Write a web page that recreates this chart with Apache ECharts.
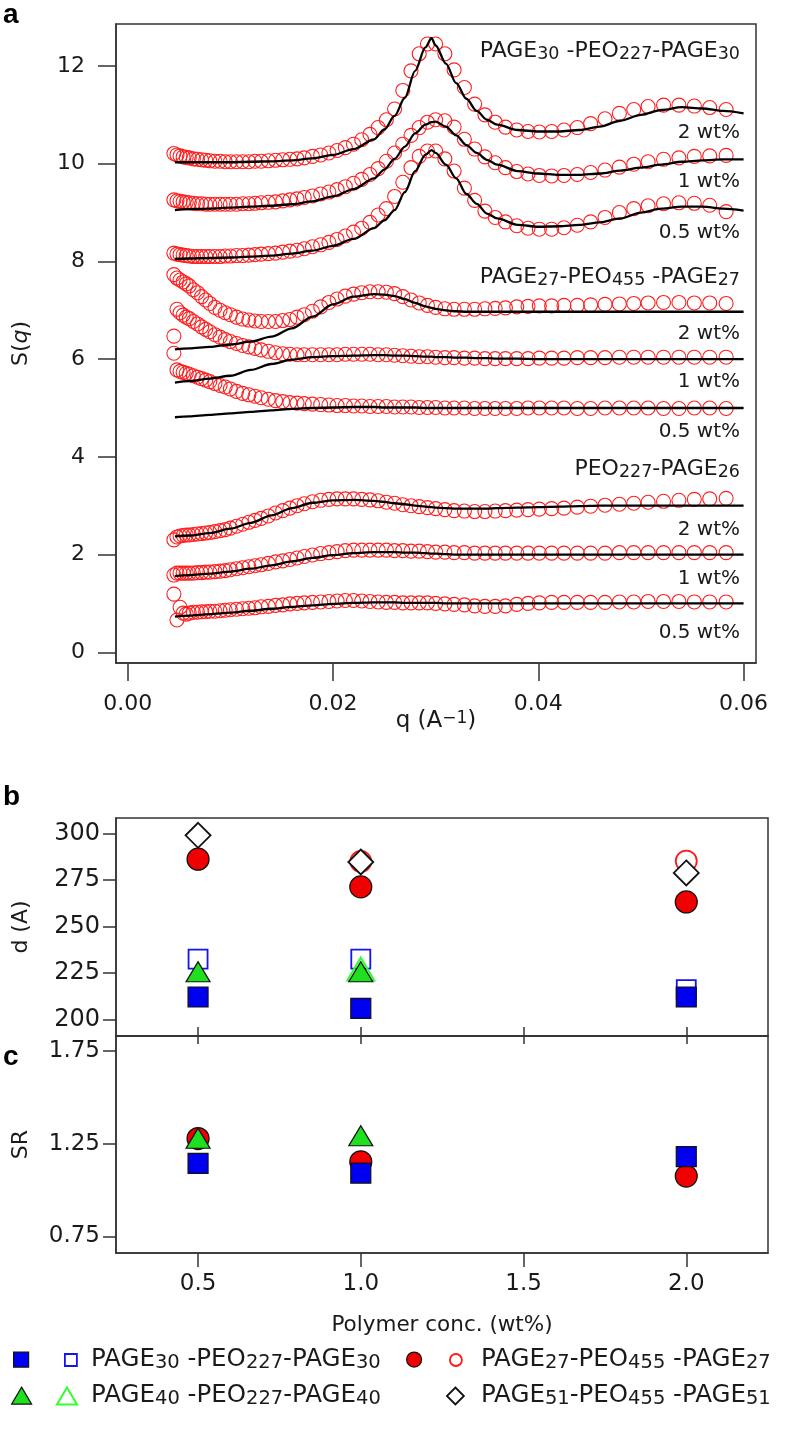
<!DOCTYPE html>
<html><head><meta charset="utf-8">
<script src="https://cdn.jsdelivr.net/npm/echarts@6/dist/echarts.min.js"></script>
<style>html,body{margin:0;padding:0;background:#fff}#c{width:788px;height:1433px}</style>
</head><body><div id="c"></div>
<script>
// ---------- Panel a: S(q) data ----------
const qData = [0.0045,0.0048,0.0051,0.0054,0.0057,0.0060,0.0064,0.0068,0.0072,0.0076,
 0.0080,0.0085,0.0090,0.0095,0.0100,0.0106,0.0112,0.0118,0.0124,0.0130,
 0.0137,0.0144,0.0151,0.0158,0.0165,0.0172,0.0180,0.0188,0.0196,0.0204,
 0.0212,0.0220,0.0228,0.0236,0.0244,0.0252,0.0260,0.0268,0.0276,0.0284,
 0.0292,0.0300,0.0309,0.0318,0.0328,0.0338,0.0348,0.0358,0.0368,0.0379,
 0.0390,0.0401,0.0413,0.0425,0.0438,0.0451,0.0465,0.0479,0.0493,0.0507,
 0.0522,0.0537,0.0552,0.0567,0.0583];
const a2wt = [10.21,10.18,10.16,10.14,10.13,10.12,10.10,10.09,10.08,10.07,
 10.06,10.05,10.05,10.04,10.04,10.04,10.04,10.04,10.05,10.05,
 10.06,10.07,10.08,10.09,10.10,10.12,10.15,10.18,10.22,10.27,
 10.33,10.40,10.49,10.60,10.74,10.90,11.12,11.50,11.90,12.25,
 12.45,12.45,12.25,11.92,11.56,11.22,11.00,10.85,10.75,10.69,
 10.66,10.65,10.66,10.69,10.74,10.82,10.92,11.03,11.11,11.17,
 11.20,11.20,11.18,11.15,11.11];
const a1wt = [9.26,9.24,9.23,9.22,9.21,9.20,9.19,9.18,9.18,9.17,
 9.17,9.17,9.17,9.17,9.17,9.17,9.18,9.18,9.19,9.20,
 9.21,9.22,9.24,9.26,9.28,9.31,9.34,9.38,9.42,9.47,
 9.53,9.60,9.68,9.78,9.90,10.05,10.22,10.40,10.58,10.74,
 10.85,10.90,10.88,10.75,10.50,10.30,10.14,10.02,9.92,9.84,
 9.79,9.76,9.75,9.76,9.78,9.82,9.87,9.93,9.99,10.04,
 10.09,10.12,10.15,10.16,10.17];
const a05wt = [8.17,8.15,8.14,8.13,8.12,8.11,8.10,8.10,8.10,8.10,
 8.10,8.10,8.10,8.11,8.11,8.12,8.12,8.13,8.14,8.15,
 8.16,8.17,8.19,8.21,8.23,8.26,8.30,8.34,8.39,8.45,
 8.52,8.60,8.68,8.80,8.95,9.08,9.33,9.62,9.92,10.15,
 10.26,10.26,10.10,9.85,9.50,9.25,9.03,8.90,8.81,8.73,
 8.68,8.66,8.66,8.69,8.74,8.81,8.90,9.00,9.08,9.14,
 9.18,9.20,9.19,9.15,9.02];
const b2wt = [7.73,7.66,7.62,7.58,7.54,7.50,7.42,7.36,7.28,7.21,
 7.14,7.06,7.00,6.95,6.91,6.86,6.82,6.80,6.78,6.77,
 6.77,6.77,6.79,6.81,6.86,6.91,6.98,7.07,7.16,7.23,
 7.29,7.33,7.36,7.38,7.38,7.37,7.34,7.28,7.21,7.15,
 7.10,7.06,7.03,7.02,7.02,7.02,7.03,7.04,7.05,7.07,
 7.08,7.09,7.09,7.10,7.10,7.11,7.12,7.13,7.14,7.15,
 7.16,7.16,7.15,7.15,7.14];
const b1wt = [6.47,7.02,6.95,6.90,6.86,6.83,6.77,6.72,6.66,6.61,
 6.56,6.50,6.45,6.40,6.36,6.32,6.28,6.25,6.22,6.19,
 6.16,6.13,6.11,6.10,6.09,6.09,6.09,6.09,6.09,6.09,
 6.10,6.10,6.10,6.10,6.09,6.09,6.08,6.07,6.06,6.05,
 6.05,6.04,6.03,6.03,6.02,6.02,6.01,6.01,6.01,6.01,
 6.01,6.02,6.02,6.02,6.03,6.03,6.03,6.04,6.04,6.04,
 6.04,6.04,6.04,6.04,6.04];
const b05wt = [6.12,5.78,5.75,5.73,5.71,5.69,5.66,5.63,5.60,5.57,
 5.54,5.50,5.46,5.43,5.39,5.34,5.30,5.27,5.24,5.21,
 5.18,5.15,5.13,5.11,5.10,5.09,5.08,5.07,5.06,5.05,
 5.05,5.04,5.04,5.03,5.03,5.03,5.02,5.02,5.02,5.01,
 5.01,5.01,5.00,5.00,5.00,4.99,4.99,4.99,4.99,4.99,
 5.00,5.00,5.00,5.00,4.99,4.99,5.00,5.00,5.00,5.00,
 4.99,4.99,5.00,5.00,4.99];
const c2wt = [2.30,2.36,2.38,2.39,2.40,2.40,2.41,2.42,2.43,2.44,
 2.45,2.47,2.49,2.51,2.54,2.58,2.62,2.66,2.70,2.74,
 2.79,2.85,2.90,2.95,3.00,3.04,3.08,3.11,3.13,3.14,
 3.14,3.14,3.13,3.12,3.10,3.07,3.05,3.02,3.00,2.98,
 2.96,2.94,2.92,2.90,2.89,2.88,2.88,2.89,2.90,2.91,
 2.92,2.93,2.94,2.95,2.97,2.99,3.01,3.03,3.05,3.07,
 3.09,3.11,3.13,3.14,3.15];
const c1wt = [1.58,1.62,1.62,1.62,1.62,1.62,1.62,1.63,1.63,1.64,
 1.64,1.65,1.66,1.67,1.69,1.71,1.73,1.75,1.77,1.79,
 1.82,1.85,1.87,1.90,1.93,1.96,1.99,2.02,2.04,2.06,
 2.08,2.09,2.09,2.09,2.09,2.09,2.08,2.08,2.07,2.07,
 2.06,2.05,2.05,2.04,2.04,2.03,2.03,2.03,2.03,2.03,
 2.03,2.03,2.03,2.03,2.03,2.03,2.03,2.04,2.04,2.04,
 2.04,2.04,2.04,2.04,2.04];
const c05wt = [1.19,0.66,0.92,0.80,0.78,0.80,0.82,0.82,0.83,0.83,
 0.84,0.84,0.85,0.86,0.87,0.88,0.89,0.90,0.91,0.93,
 0.94,0.96,0.97,0.99,1.00,1.01,1.02,1.03,1.04,1.05,
 1.06,1.06,1.05,1.04,1.03,1.02,1.02,1.01,1.01,1.01,
 1.01,1.00,0.99,0.98,0.97,0.95,0.94,0.94,0.95,0.98,
 1.00,1.01,1.02,1.02,1.02,1.02,1.02,1.03,1.03,1.04,
 1.04,1.04,1.03,1.03,1.03];

// ---------- Panel a: fit curves ----------
const qFit = [0.0046,0.006,0.008,0.010,0.012,0.014,0.016,0.018,0.020,0.022,
 0.024,0.025,0.026,0.027,0.028,0.029,0.0296,0.030,0.031,0.032,
 0.033,0.034,0.035,0.036,0.038,0.040,0.042,0.044,0.046,0.048,
 0.050,0.052,0.054,0.056,0.058,0.060];
const a2wtFit = [10.03,10.03,10.03,10.03,10.04,10.05,10.07,10.11,10.18,10.30,
 10.50,10.70,10.98,11.35,11.90,12.38,12.57,12.42,12.05,11.65,
 11.33,11.08,10.90,10.80,10.69,10.66,10.66,10.69,10.76,10.88,
 11.00,11.10,11.16,11.13,11.08,11.03];
const a1wtFit = [9.05,9.07,9.08,9.10,9.12,9.14,9.17,9.23,9.33,9.48,
 9.70,9.88,10.10,10.35,10.62,10.80,10.85,10.86,10.76,10.58,
 10.38,10.22,10.08,9.98,9.85,9.80,9.77,9.77,9.80,9.86,
 9.92,9.98,10.04,10.07,10.09,10.09];
const a05wtFit = [8.05,8.06,8.07,8.08,8.10,8.12,8.16,8.22,8.32,8.46,
 8.68,8.84,9.05,9.42,9.85,10.18,10.28,10.22,9.98,9.70,
 9.38,9.18,8.98,8.88,8.75,8.71,8.72,8.75,8.80,8.88,
 9.00,9.08,9.12,9.12,9.08,9.04];
const b2wtFit = [6.20,6.22,6.25,6.30,6.36,6.46,6.63,6.87,7.12,7.28,
 7.33,7.32,7.29,7.23,7.15,7.08,7.05,7.03,7.00,6.98,
 6.97,6.97,6.97,6.97,6.97,6.97,6.97,6.97,6.97,6.97,
 6.97,6.97,6.97,6.97,6.97,6.97];
const b1wtFit = [5.52,5.55,5.60,5.66,5.78,5.90,5.99,6.04,6.06,6.07,
 6.08,6.08,6.07,6.07,6.06,6.05,6.05,6.04,6.04,6.03,
 6.03,6.02,6.02,6.01,6.01,6.00,6.00,6.00,6.00,6.00,
 6.00,6.00,6.00,6.00,6.00,6.00];
const b05wtFit = [4.81,4.83,4.86,4.89,4.92,4.95,4.98,5.00,5.01,5.02,
 5.02,5.01,5.01,5.01,5.01,5.00,5.00,5.00,5.00,5.00,
 5.00,5.00,5.00,5.00,5.00,5.00,5.00,5.00,5.00,5.00,
 5.00,5.00,5.00,5.00,5.00,5.00];
const c2wtFit = [2.37,2.39,2.44,2.53,2.65,2.80,2.95,3.06,3.11,3.12,
 3.10,3.08,3.05,3.03,3.00,2.98,2.97,2.96,2.95,2.94,
 2.94,2.94,2.94,2.95,2.96,2.97,2.98,2.99,3.00,3.00,
 3.00,3.00,3.00,3.00,3.00,3.00];
const c1wtFit = [1.56,1.58,1.61,1.65,1.71,1.78,1.86,1.93,1.99,2.03,
 2.05,2.05,2.05,2.04,2.04,2.03,2.02,2.02,2.01,2.00,
 2.00,2.00,2.00,2.00,2.00,2.00,2.00,2.00,2.00,2.00,
 2.00,2.00,2.00,2.00,2.00,2.00];
const c05wtFit = [0.73,0.75,0.78,0.81,0.85,0.89,0.93,0.96,0.99,1.01,
 1.02,1.02,1.02,1.01,1.01,1.01,1.01,1.01,1.00,1.00,
 1.00,1.00,1.00,1.00,1.00,1.00,1.00,1.00,1.00,1.00,
 1.00,1.00,1.00,1.00,1.00,1.00];

// ---------- Panels b, c ----------
const conc = [0.5, 1.0, 2.0];
const dSqFilled  = [212.0, 205.9, 212.0];
const dSqOpen    = [232.4, 232.4, 216.0];
const dTriFilled = [225.6, 225.6, null];
const dTriOpen   = [null, 227.0, null];
const dCirFilled = [286.2, 271.3, 263.2];
const dCirOpen   = [null, 285.0, 285.2];
const dDiaOpen   = [299.1, 284.7, 278.8];
const srSqFilled  = [1.143, 1.091, 1.180];
const srCirFilled = [1.277, 1.152, 1.075];
const srTriFilled = [1.279, 1.292, null];

// ---------- Ticks ----------
const sTicks = [0, 2, 4, 6, 8, 10, 12];
const qTicks = [0, 0.02, 0.04, 0.06];
const dTicks = [200, 225, 250, 275, 300];
const srTicks = [0.75, 1.25, 1.75];
const concTicks = [0.5, 1.0, 1.5, 2.0];

const FONT = '"DejaVu Sans", Verdana, sans-serif';
const INK = '#1a1a1a';
const AX = '#333';

function pairs(xs, ys) {
  const out = [];
  xs.forEach((x, i) => { if (ys[i] != null) out.push([x, ys[i]]); });
  return out;
}

const chart = echarts.init(document.getElementById('c'), null, {renderer: 'canvas'});

const dataSets = [a2wt, a1wt, a05wt, b2wt, b1wt, b05wt, c2wt, c1wt, c05wt];
const fitSets = [a2wtFit, a1wtFit, a05wtFit, b2wtFit, b1wtFit, b05wtFit, c2wtFit, c1wtFit, c05wtFit];

const series = [];
dataSets.forEach((ys) => {
  series.push({
    type: 'scatter', xAxisIndex: 0, yAxisIndex: 0, z: 2,
    symbol: 'circle', symbolSize: 14,
    itemStyle: {color: 'rgba(255,255,255,0)', borderColor: '#ff1e1e', borderWidth: 1.1, opacity: 1},
    data: pairs(qData, ys), silent: true
  });
});
fitSets.forEach((ys) => {
  series.push({
    type: 'line', xAxisIndex: 0, yAxisIndex: 0, z: 4,
    showSymbol: false, smooth: 0.3, smoothMonotone: 'x',
    lineStyle: {color: '#000', width: 2.3},
    data: pairs(qFit, ys), silent: true
  });
});

const styleSqF  = {color: '#0000f0', borderColor: '#111', borderWidth: 1.2, opacity: 1};
const styleSqO  = {color: '#fff', borderColor: '#1414f0', borderWidth: 1.8, opacity: 1};
const styleTriF = {color: '#1fe01f', borderColor: '#111', borderWidth: 1.2, opacity: 1};
const styleTriO = {color: 'rgba(255,255,255,0)', borderColor: '#30ff30', borderWidth: 2, opacity: 1};
const styleCirF = {color: '#f00000', borderColor: '#111', borderWidth: 1.2, opacity: 1};
const styleCirO = {color: '#fff', borderColor: '#ff1a1a', borderWidth: 1.8, opacity: 1};
const styleDiaO = {color: '#fff', borderColor: '#111', borderWidth: 1.8, opacity: 1};

function sc(name, xi, yi, ys, symbol, size, style) {
  return {name, type: 'scatter', xAxisIndex: xi, yAxisIndex: yi, symbol, symbolSize: size,
          itemStyle: style, data: pairs(conc, ys), z: 3, silent: true};
}
// panel b (order = draw order)
series.push(sc('sqO', 1, 1, dSqOpen, 'rect', 19, styleSqO));
series.push(sc('triO', 1, 1, dTriOpen, 'triangle', [27, 23], styleTriO));
series.push(sc('sqF', 1, 1, dSqFilled, 'rect', 20, styleSqF));
series.push(sc('triF', 1, 1, dTriFilled, 'triangle', [24, 20], styleTriF));
series.push(sc('cirO', 1, 1, dCirOpen, 'circle', 21, styleCirO));
series.push(sc('cirF', 1, 1, dCirFilled, 'circle', 22, styleCirF));
series.push(sc('diaO', 1, 1, dDiaOpen, 'diamond', 25, styleDiaO));
// panel c
series.push(sc('cirF', 3, 2, srCirFilled, 'circle', 22, styleCirF));
series.push(sc('sqF', 3, 2, srSqFilled, 'rect', 20, styleSqF));
series.push(sc('triF', 3, 2, srTriFilled, 'triangle', [24, 20], styleTriF));

// Legend (real text, subscripts via rich text)
const legRich = {
  s: {fontSize: 19.5, fontFamily: FONT, color: INK, verticalAlign: 'bottom', lineHeight: 19.5, padding: [21, 0, 0, 0]}
};
const legendNames = {
  sqO: 'PAGE{s|30} -PEO{s|227}-PAGE{s|30}',
  cirO: 'PAGE{s|27}-PEO{s|455} -PAGE{s|27}',
  triO: 'PAGE{s|40} -PEO{s|227}-PAGE{s|40}',
  diaO: 'PAGE{s|51}-PEO{s|455} -PAGE{s|51}'
};
function leg(name, icon, left, cy, w, h, style, withText, padLeft) {
  const top = withText ? cy - 27 : cy - h / 2;
  return {
    left, top, padding: 0, itemGap: 0, itemWidth: w, itemHeight: h, selectedMode: false,
    data: [{name, icon, itemStyle: style}],
    formatter: withText ? (n => legendNames[n]) : (() => ''),
    textStyle: {fontSize: 24.5, fontFamily: FONT, color: INK, lineHeight: 26,
                padding: [0, 0, 0, padLeft || 0], rich: legRich}
  };
}

function yAxisCommon(gi, min, max, ticks, len, margin, fs, fmt, name, nameGap) {
  return {
    type: 'value', gridIndex: gi, min, max, position: 'left',
    axisLine: {show: true, onZero: false, lineStyle: {color: AX, width: 1.5}},
    axisTick: {show: true, length: len, customValues: ticks, lineStyle: {color: AX, width: 1.5}},
    axisLabel: {show: true, customValues: ticks, margin, fontSize: fs, fontFamily: FONT, color: INK,
                formatter: fmt},
    splitLine: {show: false},
    name, nameLocation: 'middle', nameRotate: 90, nameGap, nameMoveOverlap: false,
    nameTextStyle: {fontSize: 22, fontFamily: FONT, color: INK,
                    rich: {i: {fontSize: 22, fontFamily: FONT, fontStyle: 'italic', color: INK}}}
  };
}

const option = {
  animation: false,
  backgroundColor: '#fff',
  grid: [
    {left: 116, top: 24, width: 640, height: 639, show: true, borderColor: AX, borderWidth: 1.5},
    {left: 116, top: 818, width: 652, height: 218, show: true, borderColor: AX, borderWidth: 1.5},
    {left: 116, top: 1036, width: 652, height: 217, show: true, borderColor: AX, borderWidth: 1.5}
  ],
  xAxis: [
    {type: 'value', gridIndex: 0, min: -0.00114, max: 0.06121,
     axisLine: {show: true, onZero: false, lineStyle: {color: AX, width: 1.5}},
     axisTick: {show: true, length: 18, customValues: qTicks, lineStyle: {color: AX, width: 1.5}},
     axisLabel: {customValues: qTicks, margin: 30, fontSize: 22, fontFamily: FONT, color: INK,
                 formatter: v => v.toFixed(2)},
     splitLine: {show: false},
     name: 'q (A{sup|−1})', nameLocation: 'middle', nameGap: 47, nameMoveOverlap: false,
     nameTextStyle: {fontSize: 23, fontFamily: FONT, color: INK,
       rich: {sup: {fontSize: 17, fontFamily: FONT, color: INK, verticalAlign: 'top', lineHeight: 17, padding: [0, 0, 10, 0]}}}},
    {type: 'value', gridIndex: 1, min: 0.2479, max: 2.2511,
     axisLine: {show: true, onZero: false, lineStyle: {color: AX, width: 1.5}},
     axisTick: {show: true, inside: true, length: 9, customValues: concTicks, lineStyle: {color: AX, width: 1.5}},
     axisLabel: {show: false}, splitLine: {show: false}},
    {type: 'value', gridIndex: 2, min: 0.2479, max: 2.2511, position: 'top',
     axisLine: {show: false},
     axisTick: {show: true, inside: true, length: 8, customValues: concTicks, lineStyle: {color: AX, width: 1.5}},
     axisLabel: {show: false}, splitLine: {show: false}},
    {type: 'value', gridIndex: 2, min: 0.2479, max: 2.2511, position: 'bottom',
     axisLine: {show: true, onZero: false, lineStyle: {color: AX, width: 1.5}},
     axisTick: {show: true, length: 14, customValues: concTicks, lineStyle: {color: AX, width: 1.5}},
     axisLabel: {customValues: concTicks, margin: 20, fontSize: 23, fontFamily: FONT, color: INK,
                 formatter: v => v.toFixed(1)},
     splitLine: {show: false},
     name: 'Polymer conc. (wt%)', nameLocation: 'middle', nameGap: 61, nameMoveOverlap: false,
     nameTextStyle: {fontSize: 21.5, fontFamily: FONT, color: INK}}
  ],
  yAxis: [
    yAxisCommon(0, -0.22, 12.86, sTicks, 18, 31, 22, v => String(v), 'S({i|q})', 84),
    yAxisCommon(1, 191.0, 308.4, dTicks, 13, 16, 24, v => String(v), 'd (A)', 84),
    yAxisCommon(2, 0.661, 1.829, srTicks, 13, 16, 23, v => v.toFixed(2), 'SR', 84)
  ],
  legend: [
    leg('sqF', 'rect', 13, 1359, 15, 15, styleSqF, false),
    leg('sqO', 'rect', 64, 1359, 12, 12, styleSqO, true, 9),
    leg('cirF', 'circle', 406, 1359, 15, 15, styleCirF, false),
    leg('cirO', 'circle', 449, 1359, 12, 12, styleCirO, true, 14),
    leg('triF', 'triangle', 11, 1395, 20, 17, styleTriF, false),
    leg('triO', 'triangle', 56, 1395, 20, 17, styleTriO, true, 9),
    leg('diaO', 'diamond', 446, 1395, 17, 17, styleDiaO, true, 12)
  ],
  series
};

// Panel letters and in-plot labels (real text)
const gRich = {
  s: {fontSize: 17.5, fontFamily: FONT, fill: INK, verticalAlign: 'bottom', lineHeight: 17.5, padding: [19, 0, 0, 0]}
};
function gtext(txt, x, y, fs) {
  return {type: 'text', x, y, silent: true, style: {
    text: txt, fontSize: fs || 20, fontFamily: FONT, fill: INK, align: 'right', verticalAlign: 'middle',
    lineHeight: 24, rich: gRich}};
}
function letter(t, x, y) {
  return {type: 'text', x, y, silent: true, style: {text: t, fontSize: 28, fontWeight: 'bold',
    fontFamily: '"Liberation Sans", Arial, sans-serif', fill: '#000', verticalAlign: 'middle'}};
}
option.graphic = [
  letter('a', 3, 15), letter('b', 3, 797), letter('c', 3, 1057),
  gtext('PAGE{s|30} -PEO{s|227}-PAGE{s|30}', 740, 51, 22),
  gtext('2 wt%', 740, 133),
  gtext('1 wt%', 740, 182),
  gtext('0.5 wt%', 740, 233),
  gtext('PAGE{s|27}-PEO{s|455} -PAGE{s|27}', 740, 277, 22),
  gtext('2 wt%', 740, 334),
  gtext('1 wt%', 740, 382),
  gtext('0.5 wt%', 740, 432),
  gtext('PEO{s|227}-PAGE{s|26}', 740, 469, 22),
  gtext('2 wt%', 740, 530),
  gtext('1 wt%', 740, 579),
  gtext('0.5 wt%', 740, 633)
];

chart.setOption(option);
</script>
</body></html>
